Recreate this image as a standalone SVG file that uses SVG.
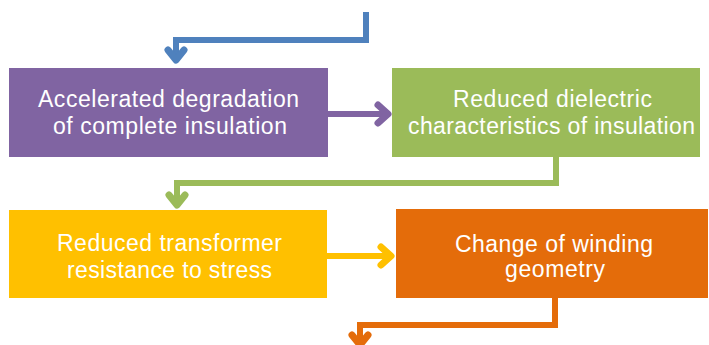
<svg xmlns="http://www.w3.org/2000/svg" width="709" height="345" viewBox="0 0 709 345">
<style>
.t{font-family:"Liberation Sans",Arial,Helvetica,sans-serif;font-size:23px;fill:#fff;text-anchor:middle}
.c{fill:none;stroke-width:6}
.h{fill:none;stroke-width:7;stroke-linecap:round;stroke-linejoin:round}
</style>
<rect width="709" height="345" fill="#fff"/>
<g id="connectors">
<polyline class="c" stroke="#4F81BD" points="366,12 366,40 176,40 176,58"/>
<polyline class="h" stroke="#4F81BD" points="168,50 176,60 184,50"/>
<line class="c" stroke="#8064A2" x1="328" y1="114" x2="388" y2="114"/>
<polyline class="h" stroke="#8064A2" points="378,105 388,114 378,123"/>
<polyline class="c" stroke="#9BBB59" points="556,157 556,183 177,183 177,203"/>
<polyline class="h" stroke="#9BBB59" points="169,195 177,205 185,195"/>
<line class="c" stroke="#FFC000" x1="327" y1="256" x2="392" y2="256"/>
<polyline class="h" stroke="#FFC000" points="381,247 391,256 381,265"/>
<polyline class="c" stroke="#E46C0A" points="555,298 555,325 360,325 360,345"/>
<polyline class="h" stroke="#E46C0A" points="352,335 360,345 368,335"/>
</g>
<g id="node1">
<rect x="9" y="68" width="319" height="89" fill="#8064A2"/>
<text class="t" x="168.5" y="107" textLength="261" lengthAdjust="spacing">Accelerated degradation</text>
<text class="t" x="170" y="134" textLength="234" lengthAdjust="spacing">of complete insulation</text>
</g>
<g id="node2">
<rect x="392" y="68" width="308" height="89" fill="#9BBB59"/>
<text class="t" x="552.5" y="107" textLength="199" lengthAdjust="spacing">Reduced dielectric</text>
<text class="t" x="551.5" y="134" textLength="287" lengthAdjust="spacing">characteristics of insulation</text>
</g>
<g id="node3">
<rect x="9" y="210" width="318" height="88" fill="#FFC000"/>
<text class="t" x="169.5" y="251" textLength="225" lengthAdjust="spacing">Reduced transformer</text>
<text class="t" x="169.5" y="278" textLength="205" lengthAdjust="spacing">resistance to stress</text>
</g>
<g id="node4">
<rect x="396" y="209" width="312" height="89" fill="#E46C0A"/>
<text class="t" x="554" y="252" textLength="198" lengthAdjust="spacing">Change of winding</text>
<text class="t" x="555" y="277" textLength="100" lengthAdjust="spacing">geometry</text>
</g>
</svg>
